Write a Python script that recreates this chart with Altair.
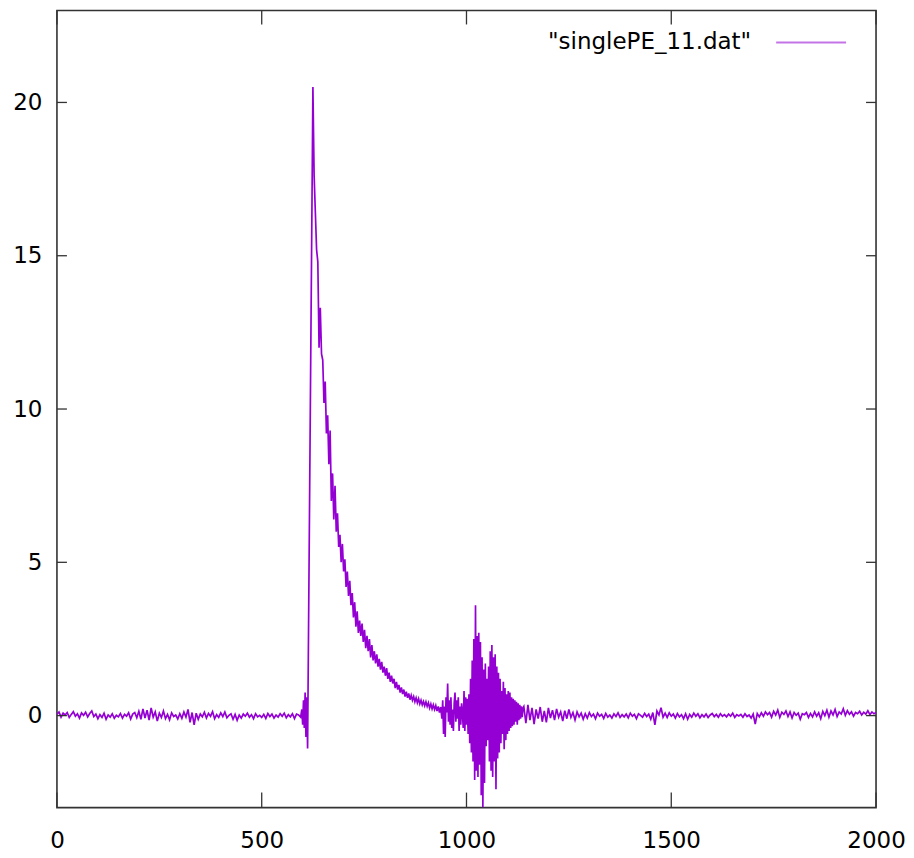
import altair as alt
import pandas as pd

# ---- data ----
# flat baseline before the pulse, x = 0, 5, ..., 595
pre_start, pre_step = 0, 5
pre_y = [
    0.05, 0.12, -0.05, 0.08, 0.02, 0.10, -0.06, 0.04, 0.13, -0.02,
    0.06, -0.08, 0.09, 0.01, 0.11, -0.04, 0.07, 0.15, -0.03, 0.05,
    -0.10, 0.03, -0.06, 0.08, -0.12, 0.02, -0.05, 0.06, -0.09, 0.01,
    -0.04, 0.07, -0.08, 0.04, -0.02, 0.09, -0.11, 0.05, 0.10, -0.07,
    0.14, -0.12, 0.22, -0.08, 0.18, -0.15, 0.25, -0.05, 0.12, -0.18,
    0.08, -0.06, 0.15, -0.10, 0.04, -0.14, 0.09, -0.03, 0.02, -0.11,
    0.06, -0.09, 0.12, -0.05, 0.20, -0.22, 0.10, -0.30, 0.08, -0.12,
    0.05, -0.04, 0.11, -0.08, 0.07, -0.02, 0.13, -0.10, 0.03, -0.06,
    0.09, -0.03, 0.12, -0.07, 0.01, 0.06, -0.12, 0.04, -0.15, 0.02,
    -0.08, 0.05, -0.02, 0.08, -0.05, 0.03, -0.10, 0.06, -0.04, 0.01,
    -0.06, 0.04, -0.09, 0.07, -0.03, 0.05, -0.08, 0.02, -0.05, 0.06,
    -0.02, 0.08, -0.07, 0.03, -0.04, 0.06, -0.10, 0.05, 0.02, -0.05,
]

# pre-pulse wiggle, fast rise and peak
pulse_x = [598, 600, 602, 604, 606, 608, 610, 612, 625, 628]
pulse_y = [0.2, -0.3, 0.5, -0.4, 0.75, -0.7, 0.6, -1.07, 20.5, 17.6]

# exponential-looking tail, x = 631, 634, ..., 937
decay_start, decay_step = 631, 3
decay_y = [
    16.4, 15.2, 14.8, 12.0, 13.3, 11.8, 11.6, 10.2, 10.9, 9.2,
    9.8, 8.2, 9.3, 7.0, 7.9, 6.4, 7.5, 6.0, 6.6, 5.5,
    5.9, 5.0, 5.6, 4.7, 5.1, 4.2, 4.7, 3.9, 4.4, 3.6,
    4.0, 3.2, 3.7, 2.9, 3.4, 2.7, 3.1, 2.6, 3.0, 2.4,
    2.8, 2.2, 2.6, 2.1, 2.5, 1.9, 2.3, 1.8, 2.1, 1.7,
    2.0, 1.6, 1.85, 1.5, 1.75, 1.4, 1.6, 1.3, 1.55, 1.2,
    1.4, 1.1, 1.3, 1.05, 1.2, 0.9, 1.1, 0.85, 1.0, 0.75,
    0.92, 0.7, 0.85, 0.62, 0.78, 0.58, 0.72, 0.52, 0.66, 0.5,
    0.62, 0.45, 0.58, 0.42, 0.55, 0.38, 0.5, 0.35, 0.46, 0.32,
    0.45, 0.3, 0.42, 0.25, 0.38, 0.22, 0.35, 0.2, 0.33, 0.15,
    0.3, 0.1, 0.28,
]

# ringing burst, x = 940, 942, ..., 1138
ring_start, ring_step = 940, 2
ring_y = [
    -0.1, 0.5, -0.6, 0.3, -0.7, 0.6, 0.1, 1.05, -0.2, 0.5,
    -0.3, 0.6, -0.4, 0.2, -0.5, 0.4, 0.75, -0.2, 0.5, -0.1,
    0.6, -0.5, 0.3, -0.3, 0.4, 0.1, -0.4, 0.8, -0.5, 0.6,
    -0.3, 0.55, -0.6, 0.7, -0.9, 1.2, -1.2, 1.8, -1.5, 2.5,
    -2.1, 3.6, -1.8, 2.6, -2.0, 2.7, -1.6, 2.4, -2.6, 1.9,
    -3.0, 1.5, -2.2, 1.7, -1.0, 1.2, -0.8, 1.6, -1.5, 2.1,
    -1.8, 2.3, -2.0, 1.9, -1.5, 2.0, -2.4, 1.6, -1.4, 1.4,
    -1.2, 1.2, -0.9, 0.8, -0.6, 1.1, -1.1, 0.9, -0.8, 0.7,
    -0.6, 0.8, -0.5, 0.75, -0.4, 0.6, -0.35, 0.55, -0.3, 0.5,
    -0.2, 0.45, -0.3, 0.4, -0.15, 0.35, -0.1, 0.3, -0.05, 0.25,
]

# baseline after the burst, x = 1140, 1145, ..., 2000
post_start, post_step = 1140, 5
post_y = [
    0.30, -0.25, 0.35, -0.15, 0.25, -0.28, 0.20, -0.10, 0.28, -0.20,
    0.15, -0.22, 0.25, -0.08, 0.18, -0.15, 0.22, -0.05, 0.12, -0.18,
    0.16, -0.10, 0.20, -0.06, 0.10, -0.14, 0.12, -0.04, 0.08, -0.12,
    0.06, -0.08, 0.10, -0.03, 0.05, -0.10, 0.08, -0.02, 0.04, -0.09,
    0.07, -0.05, 0.02, -0.08, 0.06, -0.03, 0.09, -0.06, 0.03, -0.04,
    0.05, -0.07, 0.08, -0.02, 0.04, -0.10, 0.06, 0.01, -0.05, 0.07,
    -0.03, 0.05, -0.12, 0.10, -0.30, 0.15, 0.02, 0.26, -0.05, 0.08,
    -0.06, 0.09, -0.02, 0.05, -0.08, 0.07, -0.04, 0.03, -0.10, 0.06,
    -0.12, 0.04, -0.05, 0.08, -0.02, 0.06, -0.07, 0.03, -0.04, 0.05,
    -0.06, 0.02, 0.07, -0.03, 0.04, -0.05, 0.06, -0.02, 0.03, -0.04,
    0.05, -0.02, 0.08, -0.06, 0.03, -0.01, 0.04, -0.05, 0.06, -0.03,
    0.02, -0.08, 0.05, -0.28, 0.07, -0.04, 0.09, -0.02, 0.12, 0.03,
    0.10, -0.05, 0.14, 0.02, 0.18, -0.06, 0.11, 0.04, 0.15, -0.03,
    0.12, -0.08, 0.10, 0.01, 0.08, -0.12, 0.06, 0.03, 0.10, -0.06,
    0.07, -0.04, 0.12, -0.02, 0.09, -0.10, 0.14, 0.00, 0.18, -0.05,
    0.15, 0.02, 0.20, -0.03, 0.12, 0.05, 0.22, 0.01, 0.16, 0.04,
    0.12, -0.02, 0.10, 0.06, 0.14, 0.02, 0.11, 0.05, 0.16, 0.03,
    0.12, 0.06, 0.10,
]

x_ticks = [0, 500, 1000, 1500, 2000]
y_ticks = [0, 5, 10, 15, 20]
x_domain = [0, 2000]
y_domain = [-3, 23]
legend_label = ['"singlePE_11.dat"']

# ---- build table ----
xs, ys = [], []
xs += [pre_start + pre_step * i for i in range(len(pre_y))]; ys += pre_y
xs += pulse_x; ys += pulse_y
xs += [decay_start + decay_step * i for i in range(len(decay_y))]; ys += decay_y
xs += [ring_start + ring_step * i for i in range(len(ring_y))]; ys += ring_y
xs += [post_start + post_step * i for i in range(len(post_y))]; ys += post_y
df = pd.DataFrame({"x": xs, "y": ys})

W, H = 820, 798
PURPLE = "#9400d3"
AXC = "#333333"
FONT = "DejaVu Sans"

xscale = alt.Scale(domain=x_domain, nice=False, zero=False)
yscale = alt.Scale(domain=y_domain, nice=False, zero=False)

line = alt.Chart(df).mark_line(color=PURPLE, strokeWidth=1.7, clip=True).encode(
    x=alt.X("x:Q", scale=xscale, title=None,
            axis=alt.Axis(values=x_ticks, format="d", ticks=False, domain=False, grid=False,
                          labelFlush=False, labelOverlap=False,
                          labelFontSize=23, labelFont=FONT, labelColor="#000000",
                          labelPadding=22)),
    y=alt.Y("y:Q", scale=yscale, title=None,
            axis=alt.Axis(values=y_ticks, format="d", ticks=False, domain=False, grid=False,
                          labelFlush=False, labelOverlap=False,
                          labelFontSize=23, labelFont=FONT, labelColor="#000000",
                          labelPadding=15)),
)

xt = pd.DataFrame({"xt": x_ticks})
yt = pd.DataFrame({"yt": y_ticks})

bottom_ticks = alt.Chart(xt).mark_rule(color=AXC, strokeWidth=1.3).encode(
    x=alt.X("xt:Q", scale=xscale), y=alt.value(H), y2=alt.value(H - 15))
top_ticks = alt.Chart(xt).mark_rule(color=AXC, strokeWidth=1.3).encode(
    x=alt.X("xt:Q", scale=xscale), y=alt.value(0), y2=alt.value(14))
left_ticks = alt.Chart(yt).mark_rule(color=AXC, strokeWidth=1.3).encode(
    y=alt.Y("yt:Q", scale=yscale), x=alt.value(0), x2=alt.value(10))
right_ticks = alt.Chart(yt).mark_rule(color=AXC, strokeWidth=1.3).encode(
    y=alt.Y("yt:Q", scale=yscale), x=alt.value(W), x2=alt.value(W - 10))

leg_df = pd.DataFrame({"label": legend_label})
leg_text = alt.Chart(leg_df).mark_text(
    align="right", baseline="middle", fontSize=23, font=FONT, color="#000000"
).encode(text="label:N", x=alt.value(695), y=alt.value(32))
leg_line = alt.Chart(leg_df).mark_rule(color=PURPLE, strokeWidth=2, opacity=0.55).encode(
    x=alt.value(720), x2=alt.value(790), y=alt.value(32))

chart = alt.layer(
    line, bottom_ticks, top_ticks, left_ticks, right_ticks, leg_text, leg_line
).properties(
    width=W, height=H,
    background="white",
    autosize=alt.AutoSizeParams(type="none"),
    padding={"left": 49, "top": 2, "right": 30, "bottom": 45},
).configure_view(
    stroke=AXC, strokeWidth=1.6
)

chart.save("out.html", embed_options={"renderer": "svg", "actions": False})
